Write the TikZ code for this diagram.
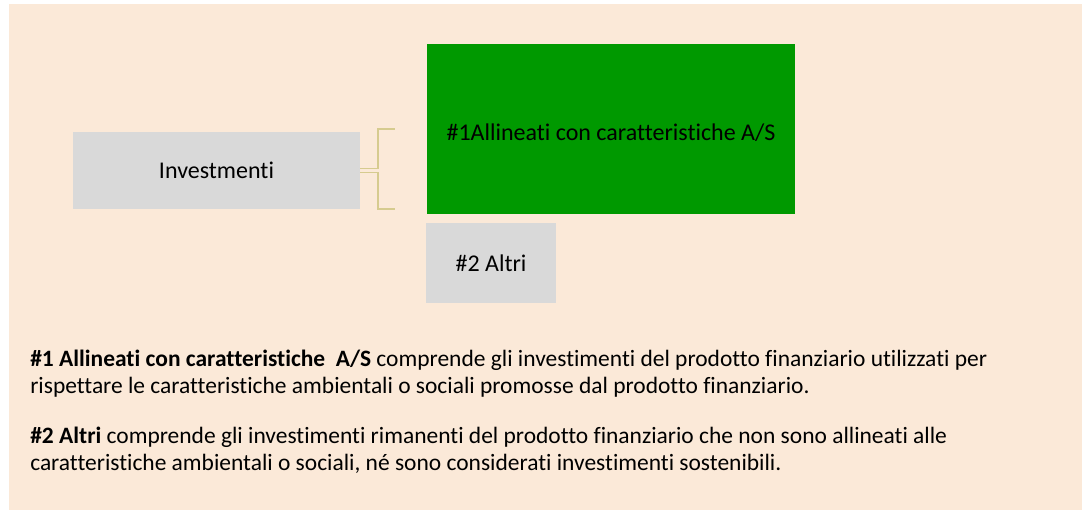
\documentclass[tikz,border=0pt]{standalone}
\usepackage{fontspec}
\setmainfont{Carlito}[Ligatures=NoCommon]
\usetikzlibrary{calc}
\definecolor{bgpeach}{HTML}{FBE9D8}
\definecolor{boxgrey}{HTML}{D9D9D9}
\definecolor{boxgreen}{HTML}{009900}
\definecolor{brace}{HTML}{D6CB8F}
\tikzset{%
  cat box/.style={rectangle, inner sep=0pt, font=\fontsize{18}{21}\selectfont, text=black},
  bracket line/.style={draw=brace, line width=1.2pt},
  note text/.style={anchor=north west, inner sep=0pt, align=left,
    font=\fontsize{17.6}{20.25}\selectfont},
}
\begin{document}
\begin{tikzpicture}[x=0.75pt,y=-0.75pt]
  \useasboundingbox (0,0) rectangle (1082,510);
  % background panel
  \fill[bgpeach] (9,4) rectangle (1082,510);
  % category boxes
  \node[cat box, fill=boxgrey, minimum width=215.25pt, minimum height=57.75pt]
    (inv) at (216.5,170.5) {Investmenti};
  \node[cat box, fill=boxgreen, minimum width=276pt, minimum height=127.5pt]
    (allin) at (611,129) {};
  \node[cat box] (allintxt) at (611,133) {\#1Allineati con caratteristiche A/S};
  \node[cat box, fill=boxgrey, minimum width=97.5pt, minimum height=60pt]
    (altri) at (491,263) {\#2 Altri};
  % bracket
  \coordinate (split) at (378,0);
  \draw[bracket line] ($(inv.east)+(0,-2)$) -- (split |- {$(inv.east)+(0,-2)$})
    -- (split |- 0,129) -- (395,129);
  \draw[bracket line] ($(inv.east)+(0,2)$) -- (split |- {$(inv.east)+(0,2)$})
    -- (split |- 0,209) -- (395,209);
  % notes
  \node[note text] (noteA) at (30,350) {\textbf{\#1 Allineati con caratteristiche\ \ A/S} comprende gli investimenti del prodotto finanziario utilizzati\ per\\
    rispettare le caratteristiche\ ambientali o sociali promosse dal prodotto finanziario.};
  \node[note text] (noteB) at (30,427) {\textbf{\#2 Altri} comprende gli investimenti rimanenti del prodotto finanziario che non sono allineati\ alle\\
    caratteristiche\ ambientali o sociali,\ né sono considerati investimenti sostenibili.};
\end{tikzpicture}
\end{document}
